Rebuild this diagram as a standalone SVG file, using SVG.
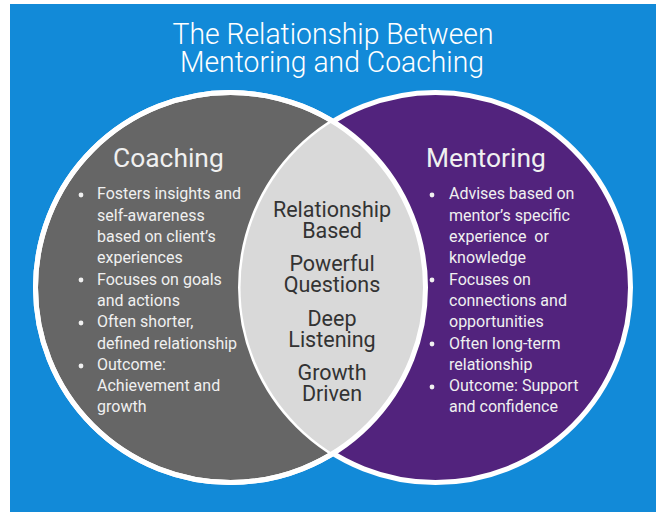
<svg xmlns="http://www.w3.org/2000/svg" width="663" height="512" viewBox="0 0 663 512">
<style>
.title{font-family:Roboto,"Liberation Sans",sans-serif;font-weight:300;font-size:30px;fill:#ffffff;text-anchor:middle}
.head{font-family:Roboto,"Liberation Sans",sans-serif;font-weight:400;font-size:26.4px;fill:#f0f0f0}
.item{font-family:Roboto,"Liberation Sans",sans-serif;font-weight:400;font-size:16px;fill:#f0f0f0}
.mid{font-family:Roboto,"Liberation Sans",sans-serif;font-weight:400;font-size:21.5px;fill:#333333;text-anchor:middle}
.ring{stroke:#ffffff;stroke-width:5}
.dot{fill:#f0f0f0}
</style>
<defs>
<clipPath id="clipL"><circle cx="230.5" cy="287.5" r="195"/></clipPath>
</defs>
<rect x="0" y="0" width="663" height="512" fill="#ffffff"/>
<rect x="10" y="4" width="646" height="508" fill="#128ad8"/>
<g id="title">
<text class="title" x="333" y="44" textLength="321" lengthAdjust="spacingAndGlyphs">The Relationship Between</text>
<text class="title" x="332" y="72" textLength="304" lengthAdjust="spacingAndGlyphs">Mentoring and Coaching</text>
</g>
<g id="coaching">
<circle class="ring" cx="230.5" cy="287.5" r="195" fill="#666666"/>
</g>
<g id="mentoring">
<circle class="ring" cx="435.5" cy="287.5" r="195" fill="#52237d"/>
</g>
<g id="overlap">
<circle cx="435.5" cy="287.5" r="195" fill="#d9d9d9" clip-path="url(#clipL)"/>
<circle cx="230.5" cy="287.5" r="195" fill="none" class="ring"/>
</g>
<g id="coaching-text">
<text class="head" x="113" y="167">Coaching</text>
<circle class="dot" cx="81" cy="195" r="2.4"/>
<circle class="dot" cx="81" cy="280" r="2.4"/>
<circle class="dot" cx="81" cy="323" r="2.4"/>
<circle class="dot" cx="81" cy="366" r="2.4"/>
<text class="item" x="97" y="199">Fosters insights and</text>
<text class="item" x="97" y="220.5">self-awareness</text>
<text class="item" x="97" y="242">based on client’s</text>
<text class="item" x="97" y="263">experiences</text>
<text class="item" x="97" y="284.5">Focuses on goals</text>
<text class="item" x="97" y="306">and actions</text>
<text class="item" x="97" y="327">Often shorter,</text>
<text class="item" x="97" y="348.5">defined relationship</text>
<text class="item" x="97" y="370">Outcome:</text>
<text class="item" x="97" y="391">Achievement and</text>
<text class="item" x="97" y="412">growth</text>
</g>
<g id="mentoring-text">
<text class="head" x="426" y="167">Mentoring</text>
<circle class="dot" cx="432" cy="195" r="2.4"/>
<circle class="dot" cx="432" cy="280" r="2.4"/>
<circle class="dot" cx="432" cy="344" r="2.4"/>
<circle class="dot" cx="432" cy="387" r="2.4"/>
<text class="item" x="449" y="199">Advises based on</text>
<text class="item" x="449" y="220.5">mentor’s specific</text>
<text class="item" x="449" y="242" xml:space="preserve">experience  or</text>
<text class="item" x="449" y="263">knowledge</text>
<text class="item" x="449" y="284.5">Focuses on</text>
<text class="item" x="449" y="306">connections and</text>
<text class="item" x="449" y="327">opportunities</text>
<text class="item" x="449" y="348.5">Often long-term</text>
<text class="item" x="449" y="370">relationship</text>
<text class="item" x="449" y="391">Outcome: Support</text>
<text class="item" x="449" y="412">and confidence</text>
</g>
<g id="shared-text">
<text class="mid" x="332" y="217">Relationship</text>
<text class="mid" x="332" y="238">Based</text>
<text class="mid" x="332" y="271">Powerful</text>
<text class="mid" x="332" y="292">Questions</text>
<text class="mid" x="332" y="326">Deep</text>
<text class="mid" x="332" y="347">Listening</text>
<text class="mid" x="332" y="380">Growth</text>
<text class="mid" x="332" y="401">Driven</text>
</g>
<g id="connectors"></g>
</svg>
